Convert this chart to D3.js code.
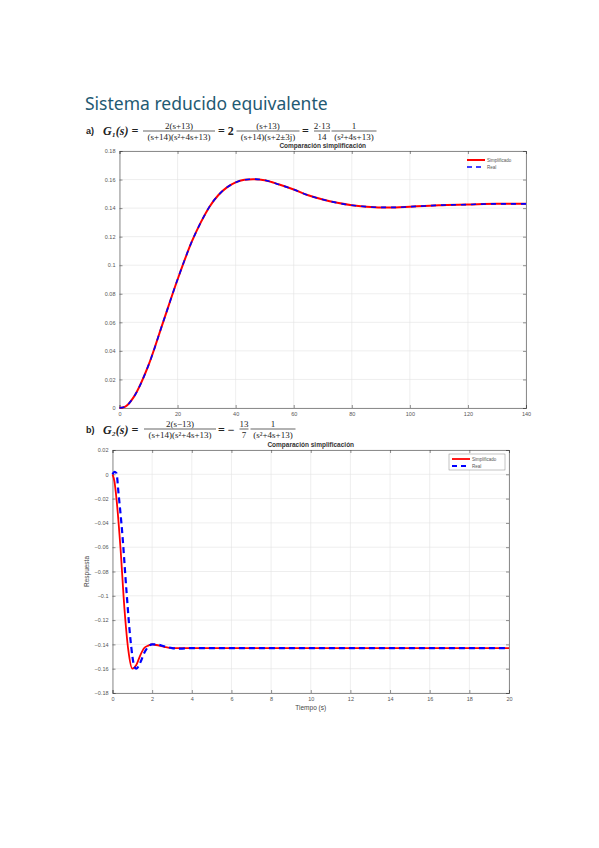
<!DOCTYPE html>
<html><head><meta charset="utf-8">
<script src="https://cdn.jsdelivr.net/npm/d3@7"></script>
<style>body{margin:0;background:#fff}svg{display:block}</style>
</head><body>
<svg id="page" width="599" height="848"></svg>
<script>
// chart a) data
const tA = [0, 2, 5, 10, 15, 20, 25, 28, 31, 34, 37, 40, 43, 46, 50, 55, 60, 65, 70, 75, 80, 85, 90, 95, 100, 105, 110, 120, 130, 140];
const simA = [0, 0.001, 0.008, 0.03, 0.06, 0.09, 0.117, 0.13, 0.141, 0.149, 0.1545, 0.158, 0.1598, 0.1603, 0.1595, 0.1565, 0.153, 0.149, 0.146, 0.1437, 0.142, 0.141, 0.1405, 0.1405, 0.141, 0.1415, 0.142, 0.1425, 0.143, 0.143];
const realA = simA.slice();
const xTicksA = [0, 20, 40, 60, 80, 100, 120, 140];
const yTicksA = [0, 0.02, 0.04, 0.06, 0.08, 0.1, 0.12, 0.14, 0.16, 0.18];

// chart b) data
const tSimB = [0, 0.1, 0.2, 0.4, 0.6, 0.8, 1.0, 1.2, 1.4, 1.6, 1.8, 2.0, 2.2, 2.6, 3.0, 3.4, 4, 20];
const simB = [0, -0.006, -0.02, -0.06, -0.11, -0.145, -0.16, -0.157, -0.149, -0.143, -0.141, -0.14, -0.1405, -0.142, -0.143, -0.143, -0.143, -0.143];
const tRealB = [0, 0.1, 0.2, 0.3, 0.5, 0.7, 0.9, 1.1, 1.2, 1.4, 1.6, 1.8, 2.0, 2.2, 2.6, 3.0, 3.4, 4, 20];
const realB = [0, 0.002, 0.001, -0.015, -0.05, -0.095, -0.135, -0.158, -0.16, -0.155, -0.147, -0.142, -0.14, -0.14, -0.1415, -0.143, -0.1435, -0.143, -0.143];
const xTicksB = [0, 2, 4, 6, 8, 10, 12, 14, 16, 18, 20];
const yTicksB = [0.02, 0, -0.02, -0.04, -0.06, -0.08, -0.1, -0.12, -0.14, -0.16, -0.18];

const legendNames = ['Simplificado', 'Real'];

const svg = d3.select('#page');

svg.append('text').attr('x', 85).attr('y', 110)
    .attr('font-family', 'Noto Sans').attr('font-size', 17.5)
    .attr('fill', '#1f5a73').text('Sistema reducido equivalente');

// fraction helper
function frac(cx, lineY, num, den, w) {
  const g = svg.append('g').attr('font-family', 'Liberation Serif').attr('font-size', 9).attr('fill', '#222');
  g.append('text').attr('x', cx).attr('y', lineY - 2.5).attr('text-anchor', 'middle').text(num);
  g.append('line').attr('x1', cx - w / 2).attr('x2', cx + w / 2).attr('y1', lineY).attr('y2', lineY)
      .attr('stroke', '#222').attr('stroke-width', 0.7);
  g.append('text').attr('x', cx).attr('y', lineY + 8.5).attr('text-anchor', 'middle').text(den);
}
function txt(x, y, s, opts = {}) {
  svg.append('text').attr('x', x).attr('y', y)
      .attr('font-family', opts.fam || 'Liberation Serif').attr('font-size', opts.size || 11)
      .attr('font-weight', opts.bold ? 'bold' : null).attr('font-style', opts.italic ? 'italic' : null)
      .attr('fill', '#222').text(s);
}

// equation a)
txt(86, 134, 'a)', {fam: 'Liberation Sans', size: 9, bold: true});
txt(103, 135, 'G₁(s) =', {size: 12, bold: true, italic: true});
frac(179, 131, '2(s+13)', '(s+14)(s²+4s+13)', 72);
txt(218, 135, '= 2', {size: 12, bold: true});
frac(268, 131, '(s+13)', '(s+14)(s+2±3j)', 63);
txt(302, 135, '=', {size: 12, bold: true});
frac(322, 131, '2·13', '14', 16);
frac(354, 131, '1', '(s²+4s+13)', 45);

// equation b)
txt(86, 433, 'b)', {fam: 'Liberation Sans', size: 9, bold: true});
txt(103, 434, 'G₂(s) =', {size: 12, bold: true, italic: true});
frac(180, 429, '2(s−13)', '(s+14)(s²+4s+13)', 72);
txt(218, 434, '= −', {size: 12, bold: true});
frac(244, 429, '13', '7', 9);
frac(273, 429, '1', '(s²+4s+13)', 45);

function chart(cfg) {
  const {l, r, t, b} = cfg;
  const x = d3.scaleLinear().domain(cfg.xDom).range([l, r]);
  const y = d3.scaleLinear().domain(cfg.yDom).range([b, t]);
  const g = svg.append('g');
  // grid
  g.selectAll('.gx').data(cfg.xTicks).enter().append('line')
      .attr('x1', d => x(d)).attr('x2', d => x(d)).attr('y1', t).attr('y2', b)
      .attr('stroke', '#e3e3e3').attr('stroke-width', 0.6);
  g.selectAll('.gy').data(cfg.yTicks).enter().append('line')
      .attr('y1', d => y(d)).attr('y2', d => y(d)).attr('x1', l).attr('x2', r)
      .attr('stroke', '#e3e3e3').attr('stroke-width', 0.6);
  const fmt = d => d3.format('.2~f')(d);
  g.append('g').attr('transform', `translate(0,${b})`)
      .call(d3.axisBottom(x).tickValues(cfg.xTicks).tickSize(-3).tickPadding(4).tickFormat(d3.format('~g')));
  g.append('g').attr('transform', `translate(${l},0)`)
      .call(d3.axisLeft(y).tickValues(cfg.yTicks).tickSize(-3).tickPadding(4).tickFormat(fmt));
  g.append('g').attr('transform', `translate(0,${t})`)
      .call(d3.axisTop(x).tickValues(cfg.xTicks).tickSize(-3).tickFormat(''));
  g.append('g').attr('transform', `translate(${r},0)`)
      .call(d3.axisRight(y).tickValues(cfg.yTicks).tickSize(-3).tickFormat(''));
  g.selectAll('.domain').attr('stroke', '#444').attr('stroke-width', 0.6);
  g.selectAll('.tick line').attr('stroke', '#444').attr('stroke-width', 0.6);
  g.selectAll('.tick text').attr('font-family', 'Liberation Sans').attr('font-size', 5.5).attr('fill', '#555');
  g.append('text').attr('x', (l + r) / 2).attr('y', t - 3).attr('text-anchor', 'middle')
      .attr('font-family', 'Liberation Sans').attr('font-size', 6.5).attr('font-weight', 'bold')
      .attr('fill', '#333').text('Comparación simplificación');
  if (cfg.xLabel) g.append('text').attr('x', (l + r) / 2).attr('y', b + 17).attr('text-anchor', 'middle')
      .attr('font-family', 'Liberation Sans').attr('font-size', 6.5).attr('fill', '#444').text(cfg.xLabel);
  if (cfg.yLabel) g.append('text').attr('transform', `translate(${l - 24},${(t + b) / 2}) rotate(-90)`)
      .attr('text-anchor', 'middle').attr('font-family', 'Liberation Sans').attr('font-size', 6.5)
      .attr('fill', '#444').text(cfg.yLabel);
  const line = d3.line().x(d => x(d[0])).y(d => y(d[1])).curve(d3.curveMonotoneX);
  g.append('path').datum(d3.zip(cfg.tS, cfg.sim)).attr('d', line)
      .attr('fill', 'none').attr('stroke', '#ff0000').attr('stroke-width', cfg.wS);
  g.append('path').datum(d3.zip(cfg.tR, cfg.real)).attr('d', line)
      .attr('fill', 'none').attr('stroke', '#0000ff').attr('stroke-width', cfg.wR)
      .attr('stroke-dasharray', cfg.dash);
  const lg = g.append('g').attr('transform', `translate(${cfg.legX},${cfg.legY})`);
  if (cfg.legBox) lg.append('rect').attr('x', -3).attr('y', -5).attr('width', 56).attr('height', 16)
      .attr('fill', '#fff').attr('stroke', '#888').attr('stroke-width', 0.5);
  lg.append('line').attr('x1', 0).attr('x2', 18).attr('y1', 0).attr('y2', 0)
      .attr('stroke', '#ff0000').attr('stroke-width', cfg.wS);
  lg.append('line').attr('x1', 0).attr('x2', 18).attr('y1', 7).attr('y2', 7)
      .attr('stroke', '#0000ff').attr('stroke-width', cfg.wR).attr('stroke-dasharray', '5,4');
  lg.selectAll('.lt').data(legendNames).enter().append('text')
      .attr('x', 20).attr('y', (d, i) => i * 7 + 2).text(d => d)
      .attr('font-family', 'Liberation Sans').attr('font-size', 4.5).attr('fill', '#555');
}

chart({l: 119.5, r: 526, t: 151, b: 408, xDom: [0, 140], yDom: [0, 0.18],
  xTicks: xTicksA, yTicks: yTicksA, tS: tA, sim: simA, tR: tA, real: realA,
  wS: 2, wR: 1.6, dash: '5,5', legX: 467, legY: 160, legBox: false});

chart({l: 112.5, r: 509, t: 450, b: 693, xDom: [0, 20], yDom: [-0.18, 0.02],
  xTicks: xTicksB, yTicks: yTicksB, tS: tSimB, sim: simB, tR: tRealB, real: realB,
  wS: 1.8, wR: 2.2, dash: '6,4', legX: 452, legY: 459, legBox: true,
  xLabel: 'Tiempo (s)', yLabel: 'Respuesta'});
</script>
</body></html>
